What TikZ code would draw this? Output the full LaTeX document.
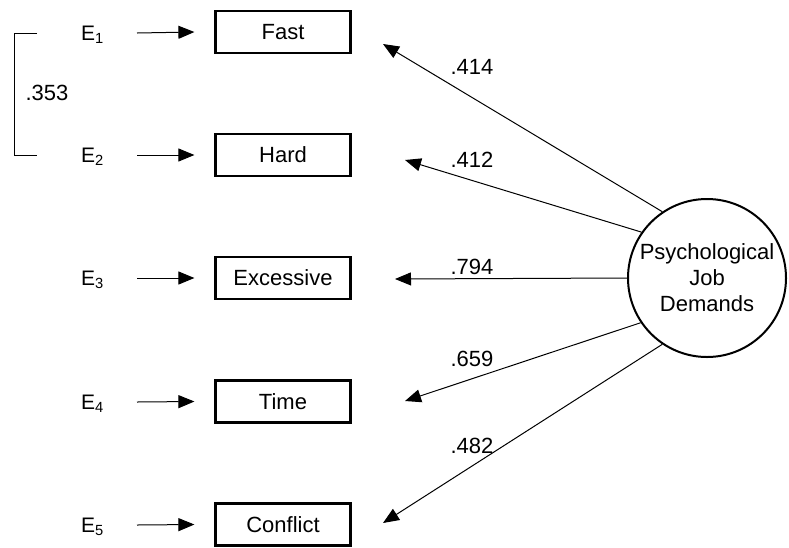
\documentclass[tikz,border=0pt]{standalone}
\usepackage{fontspec}
\setmainfont{Liberation Sans}
\usetikzlibrary{arrows.meta}
\begin{document}
\begin{tikzpicture}[x=1pt,y=-1pt,
  ind/.style={draw, line width=2.2pt, minimum width=135pt, minimum height=42pt, inner sep=0pt, font=\fontsize{22}{26}\selectfont},
  err/.style={font=\fontsize{21}{24}\selectfont, inner sep=0pt, anchor=west},
  lat/.style={draw, circle, line width=2pt, minimum size=158pt, inner sep=0pt, align=center, font=\fontsize{22}{26}\selectfont},
  arr/.style={line width=1pt, -{Triangle[length=16pt,width=13pt]}},
  lbl/.style={font=\fontsize{22}{26}\selectfont, inner sep=0pt}
]
\useasboundingbox (0,0) rectangle (789,547);

% indicators
\node[ind] (fast) at (283,32) {Fast};
\node[ind] (hard) at (283,155) {Hard};
\node[ind] (exc) at (283,278) {Excessive};
\node[ind] (time) at (283,401.5) {Time};
\node[ind] (conf) at (283,524.5) {Conflict};

% errors
\node[err] (e1) at (81,35) {E\textsubscript{1}};
\node[err] (e2) at (81,157) {E\textsubscript{2}};
\node[err] (e3) at (81,280) {E\textsubscript{3}};
\node[err] (e4) at (81,404) {E\textsubscript{4}};
\node[err] (e5) at (81,527) {E\textsubscript{5}};

\draw[arr] (137,33) coordinate (e1s) -- ([xshift=-20pt]fast.west);
\draw[arr] (137,155) coordinate (e2s) -- ([xshift=-20pt]hard.west);
\draw[arr] (137,278) coordinate (e3s) -- ([xshift=-20pt]exc.west);
\draw[arr] (137,402) coordinate (e4s) -- ([xshift=-20pt]time.west);
\draw[arr] (137,525) coordinate (e5s) -- ([xshift=-20pt]conf.west);

% correlation bracket
\coordinate (b1) at (37,33);
\coordinate (b2) at (37,155);
\draw[line width=1pt] (b1) -- (14,33) -- (14,155) -- (b2);
\node[lbl] (r12) at (47,93) {.353};

% latent
\node[lat] (pjd) at (707,278) {Psychological\\Job\\Demands};

\coordinate (t1) at (383,44);
\coordinate (t2) at (405,160);
\coordinate (t3) at (395,279);
\coordinate (t4) at (405,401);
\coordinate (t5) at (383,523);

\draw[arr] (pjd.124) -- (t1);
\draw[arr] (pjd.145) -- (t2);
\draw[arr] (pjd.west) -- (t3);
\draw[arr] (pjd.214) -- (t4);
\draw[arr] (pjd.236) -- (t5);

\node[lbl] (l1) at (472,67) {.414};
\node[lbl] (l2) at (472,160) {.412};
\node[lbl] (l3) at (472,267) {.794};
\node[lbl] (l4) at (472,359) {.659};
\node[lbl] (l5) at (472,446) {.482};
\end{tikzpicture}
\end{document}
